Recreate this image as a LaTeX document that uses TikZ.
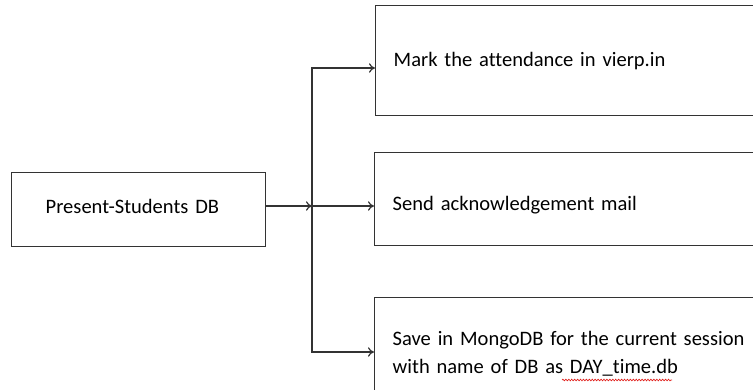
\documentclass[tikz,border=0pt]{standalone}
\usepackage{fontspec}
\setmainfont{Carlito}[Ligatures=NoCommon]
\usetikzlibrary{shapes, arrows, arrows.meta, decorations.pathmorphing}
\definecolor{linecol}{HTML}{333333}
\definecolor{wavecol}{HTML}{E0201C}
\newcommand{\boxfont}{\fontsize{15.4}{21}\selectfont\spaceskip=3.3pt plus 1pt minus 0.5pt\relax}
\tikzstyle{src} = [rectangle, draw=linecol, line width=1.1pt, text width=139.5pt, inner xsep=25.5pt, inner ysep=0pt, align=left, anchor=north west, text height=30.75pt, text depth=24.75pt]
\tikzstyle{act} = [rectangle, draw=linecol, line width=1.1pt, text width=283.5pt, inner xsep=13.5pt, inner ysep=0pt, align=left, anchor=north west]
\tikzstyle{arrow} = [line width=0.9pt, draw=linecol, ->, >={To[length=4.5pt, width=7pt]}]
\tikzstyle{spell} = [draw=wavecol, line width=0.5pt, decorate, decoration={snake, amplitude=0.6pt, segment length=2.2pt}]

\begin{document}
\begin{tikzpicture}[x=0.75pt, y=-0.75pt, every node/.style={font=\boxfont}]
\useasboundingbox (0,0) rectangle (753,389);
\clip (0,0) rectangle (753,389);

%Source
\node (db) [src] at (11,172) {Present-Students DB};

%Actions
\node (mark) [act, text height=45.75pt, text depth=36.75pt] at (375,5) {Mark the attendance in vierp.in};
\node (ack) [act, text height=43.5pt, text depth=26.25pt] at (374,152) {Send acknowledgement mail};
\node (save) [act, text height=36pt, text depth=43.5pt] at (374,297) {Save in MongoDB for the current session\\with name of DB as DAY\_time.db};
\draw [spell] ([shift={(188,83)}]save.north west) -- ([shift={(298,83)}]save.north west);

%Fork
\coordinate (fork) at (312,206);
\draw [arrow] (db.east |- fork) -- (fork);
\draw [arrow] (fork) |- ([yshift=-47.25pt]mark.north west);
\draw [arrow] (fork) -- (ack.west |- fork);
\draw [arrow] (fork) |- ([yshift=-41.25pt]save.north west);
\end{tikzpicture}
\end{document}
